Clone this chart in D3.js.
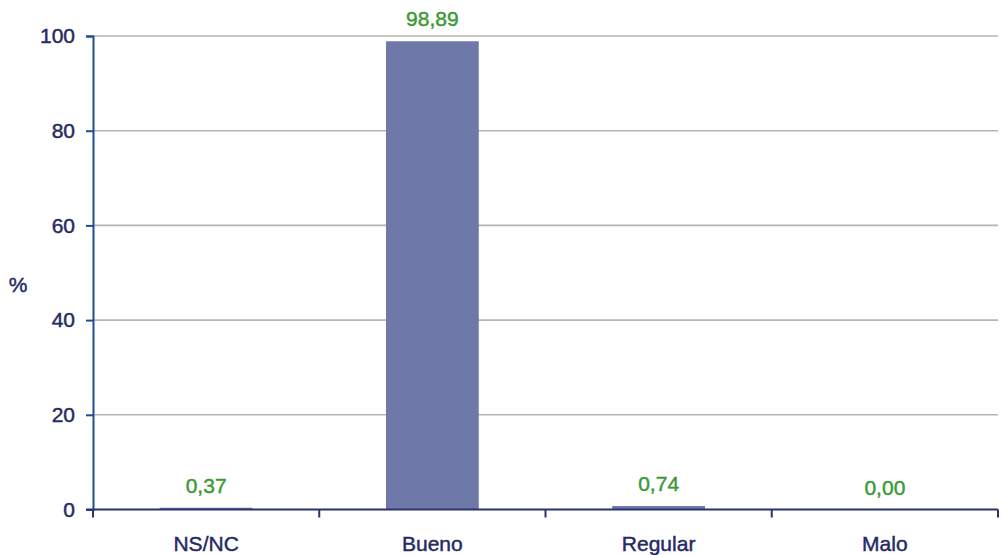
<!DOCTYPE html>
<html>
<head>
<meta charset="utf-8">
<script src="https://cdn.jsdelivr.net/npm/d3@7/dist/d3.min.js"></script>
<style>
  html, body { margin: 0; padding: 0; background: #fff; }
  svg { display: block; font-family: "Liberation Sans", Arial, Helvetica, sans-serif; }
</style>
</head>
<body>
<svg id="chart" width="1002" height="555"></svg>
<script>
// Survey answers (%)
const categories = ["NS/NC", "Bueno", "Regular", "Malo"];
const values = [0.37, 98.89, 0.74, 0.00];
const valueLabels = ["0,37", "98,89", "0,74", "0,00"];
const yTicks = [0, 20, 40, 60, 80, 100];
const yTitle = "%";

const svg = d3.select("#chart");
const margin = { left: 93, right: 4, top: 36, bottom: 45.5 };
const W = 1002, H = 555;
const fontFamily = "'Liberation Sans', Arial, Helvetica, sans-serif";
const fontSize = 21;
const textStroke = 0.45; // thickens the regular face to a medium weight

const x = d3.scaleBand()
  .domain(categories)
  .range([margin.left, W - margin.right])
  .paddingInner(0.59)
  .paddingOuter(0.295);

const y = d3.scaleLinear()
  .domain([0, 100])
  .range([H - margin.bottom, margin.top]);

const textColor = "#252b62";
const labelColor = "#3b9a37";

// horizontal gridlines
svg.append("g")
  .selectAll("line")
  .data(yTicks.filter(d => d > 0))
  .join("line")
  .attr("x1", margin.left)
  .attr("x2", W - margin.right)
  .attr("y1", d => y(d))
  .attr("y2", d => y(d))
  .attr("stroke", "#b5b5b5")
  .attr("stroke-width", 1.6);

// bars
svg.append("g")
  .selectAll("rect")
  .data(values)
  .join("rect")
  .attr("x", (d, i) => x(categories[i]))
  .attr("width", x.bandwidth())
  .attr("y", d => y(d))
  .attr("height", d => y(0) - y(d))
  .attr("fill", "#6e78a9");

// value labels
svg.append("g")
  .selectAll("text")
  .data(values)
  .join("text")
  .attr("x", (d, i) => x(categories[i]) + x.bandwidth() / 2)
  .attr("y", d => y(d) - 15)
  .attr("text-anchor", "middle")
  .attr("fill", labelColor)
  .attr("stroke", labelColor)
  .attr("stroke-width", textStroke)
  .attr("font-size", fontSize)
  .text((d, i) => valueLabels[i]);

// y axis
const yAxis = svg.append("g")
  .attr("transform", `translate(${margin.left},0)`)
  .call(d3.axisLeft(y).tickValues(yTicks).tickSize(7).tickPadding(11).tickFormat(d3.format("d")));
yAxis.select(".domain").attr("stroke", "#1e4f8f").attr("stroke-width", 2);
yAxis.selectAll(".tick line").attr("stroke", "#1e4f8f").attr("stroke-width", 2);
yAxis.selectAll(".tick text")
  .attr("fill", textColor)
  .attr("stroke", textColor)
  .attr("stroke-width", textStroke)
  .attr("font-size", fontSize)
  .attr("font-family", fontFamily);

// x axis with ticks at the band boundaries
const xAxisG = svg.append("g").attr("transform", `translate(0,${y(0)})`);
xAxisG.append("line")
  .attr("x1", margin.left - 7)
  .attr("x2", W - margin.right)
  .attr("stroke", "#2b3270")
  .attr("stroke-width", 2);
const step = x.step();
const tickXs = d3.range(categories.length + 1).map(i => margin.left + i * step);
xAxisG.selectAll(".cat-tick")
  .data(tickXs)
  .join("line")
  .attr("class", "cat-tick")
  .attr("x1", d => d)
  .attr("x2", d => d)
  .attr("y1", 0)
  .attr("y2", 8)
  .attr("stroke", "#2b3270")
  .attr("stroke-width", 2);
xAxisG.selectAll(".cat-label")
  .data(categories)
  .join("text")
  .attr("class", "cat-label")
  .attr("x", d => x(d) + x.bandwidth() / 2)
  .attr("y", 41)
  .attr("text-anchor", "middle")
  .attr("fill", textColor)
  .attr("stroke", textColor)
  .attr("stroke-width", textStroke)
  .attr("font-size", fontSize)
  .text(d => d);

// y title
svg.append("text")
  .attr("x", 18)
  .attr("y", 292)
  .attr("text-anchor", "middle")
  .attr("fill", textColor)
  .attr("stroke", textColor)
  .attr("stroke-width", textStroke)
  .attr("font-size", fontSize)
  .text(yTitle);
</script>
</body>
</html>
